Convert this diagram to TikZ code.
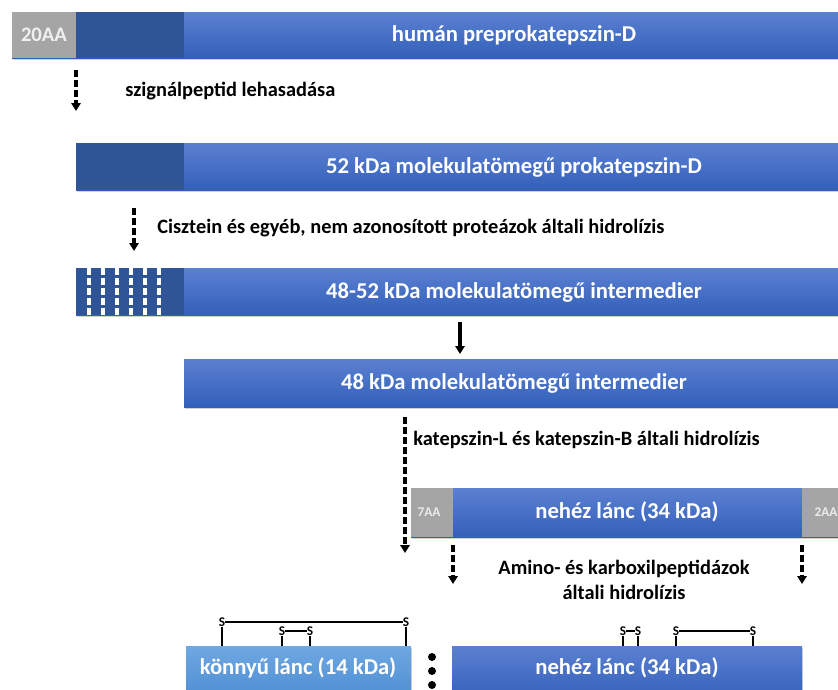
\documentclass[tikz,border=0pt]{standalone}
\usepackage{fontspec}
\setmainfont{Carlito}
\usetikzlibrary{arrows.meta}
\definecolor{bartop}{HTML}{5B80D1}
\definecolor{barbot}{HTML}{3360BA}
\definecolor{prodark}{HTML}{2F5597}
\definecolor{siggray}{HTML}{A5A5A5}
\definecolor{lighttop}{HTML}{6FA8E2}
\definecolor{lightbot}{HTML}{4D8DD2}
\tikzset{
  bluebar/.style={top color=bartop, bottom color=barbot},
  lightbar/.style={top color=lighttop, bottom color=lightbot},
  darkpart/.style={fill=prodark},
  graypart/.style={fill=siggray},
  barshadow/.style={fill=black!18},
  bartxt/.style={text=white, font=\fontsize{17}{20}\bfseries\selectfont, inner sep=0pt},
  aatxt/.style={text=black!8, font=\fontsize{10}{12}\bfseries\selectfont, inner sep=0pt},
  steptxt/.style={font=\fontsize{15.3}{18.5}\bfseries\selectfont, inner sep=0pt},
  stxt/.style={font=\fontsize{10}{11}\bfseries\selectfont, inner sep=0pt},
  cutarrow/.style={-{Triangle[length=6pt,width=7pt]}, line width=2.3pt, dash pattern=on 5pt off 2.5pt},
  solidarrow/.style={-{Triangle[length=6pt,width=7pt]}, line width=2.3pt},
  ssbond/.style={line width=1.1pt}
}
\begin{document}
\begin{tikzpicture}[x=0.75pt,y=-0.75pt]
    \clip (0,0) rectangle (838,689);
    % preprokatepszin-D
    \fill[barshadow] (13,14) rectangle (850,60);
    \shade[bluebar] (12,12) rectangle (850,58);
    \fill[graypart] (12,12) rectangle (76,58);
    \fill[darkpart] (76,12) rectangle (184,58);
    \node[aatxt, text=black!6, font=\fontsize{15.5}{17}\bfseries\selectfont] (sig) at (44,35) {20AA};
    \node[bartxt] (pre) at (514,35) {humán preprokatepszin-D};
    \coordinate (c1a) at (76,70);
    \coordinate (c1b) at (76,111);
    \draw[cutarrow] (c1a) -- (c1b);
    \node[steptxt, anchor=west] (step1) at (125,91) {szignálpeptid lehasadása};
    % prokatepszin-D
    \fill[barshadow] (77,145) rectangle (850,192);
    \shade[bluebar] (76,143) rectangle (850,190);
    \fill[darkpart] (76,143) rectangle (184,190);
    \node[bartxt] (pro) at (514,167) {52 kDa molekulatömegű prokatepszin-D};
    \coordinate (c2a) at (134,208);
    \coordinate (c2b) at (134,251);
    \draw[cutarrow] (c2a) -- (c2b);
    \node[steptxt, anchor=west] (step2) at (157,228) {Cisztein és egyéb, nem azonosított proteázok általi hidrolízis};
    % 48-52 kDa
    \fill[barshadow] (77,270) rectangle (850,317);
    \shade[bluebar] (76,268) rectangle (850,315);
    \fill[darkpart] (76,268) rectangle (184,315);
    \foreach \xx in {89,103,117,131,145,159}
        \draw[white, line width=2.3pt, dash pattern=on 5pt off 2.5pt] (\xx,268) -- (\xx,315);
    \node[bartxt] (mid1) at (514,292) {48-52 kDa molekulatömegű intermedier};
    \coordinate (c3a) at (460,322);
    \coordinate (c3b) at (460,354);
    \draw[solidarrow] (c3a) -- (c3b);
    % 48 kDa
    \fill[barshadow] (185,361) rectangle (850,409);
    \shade[bluebar] (184,359) rectangle (850,407);
    \node[bartxt] (mid2) at (514,383) {48 kDa molekulatömegű intermedier};
    \coordinate (c4a) at (405,417);
    \coordinate (c4b) at (405,553);
    \draw[cutarrow] (c4a) -- (c4b);
    \node[steptxt, anchor=west] (step3) at (413,440) {katepszin-L és katepszin-B általi hidrolízis};
    % nehez lanc with propeptides
    \fill[barshadow] (412,490) rectangle (850,539);
    \shade[bluebar] (411,488) rectangle (850,537);
    \fill[graypart] (411,488) rectangle (453,537);
    \fill[graypart] (802,488) rectangle (850,537);
    \node[aatxt] (aa7) at (429,512) {7AA};
    \node[aatxt] (aa2) at (826,512) {2AA};
    \node[bartxt] (heavy1) at (627,512) {nehéz lánc (34 kDa)};
    \coordinate (c5a) at (453,545);
    \coordinate (c5b) at (453,584);
    \coordinate (c6a) at (802,545);
    \coordinate (c6b) at (802,584);
    \draw[cutarrow] (c5a) -- (c5b);
    \draw[cutarrow] (c6a) -- (c6b);
    \node[steptxt, align=center] (step4) at (624,580) {Amino- és karboxilpeptidázok\\általi hidrolízis};
    % mature chains
    \fill[barshadow] (187,648) rectangle (412,700);
    \shade[lightbar] (186,646) rectangle (411,700);
    \node[bartxt] (light) at (298,668) {könnyű lánc (14 kDa)};
    \fill[barshadow] (453,648) rectangle (803,700);
    \shade[bluebar] (452,646) rectangle (802,700);
    \node[bartxt] (heavy2) at (627,668) {nehéz lánc (34 kDa)};
    \foreach \yy/\nm in {657/d1,671/d2,685/d3}
        \fill (432,\yy) circle (4) coordinate (\nm);
    % disulfide bridges
    \node[stxt] (s1) at (222,622) {S};
    \node[stxt] (s2) at (406,622) {S};
    \node[stxt] (s3) at (282,631) {S};
    \node[stxt] (s4) at (310,631) {S};
    \draw[ssbond] (s1) -- (s2);
    \draw[ssbond] (s3) -- (s4);
    \draw[ssbond] (s1.south) -- (222,646);
    \draw[ssbond] (s2.south) -- (406,646);
    \draw[ssbond] (s3.south) -- (282,646);
    \draw[ssbond] (s4.south) -- (310,646);
    \node[stxt] (s5) at (623,631) {S};
    \node[stxt] (s6) at (638,631) {S};
    \node[stxt] (s7) at (676,631) {S};
    \node[stxt] (s8) at (753,631) {S};
    \draw[ssbond, line width=0.8pt] (s5) -- (s6);
    \draw[ssbond] (s7) -- (s8);
    \draw[ssbond] (s5.south) -- (623,646);
    \draw[ssbond] (s6.south) -- (638,646);
    \draw[ssbond] (s7.south) -- (676,646);
    \draw[ssbond] (s8.south) -- (753,646);
\end{tikzpicture}
\end{document}
